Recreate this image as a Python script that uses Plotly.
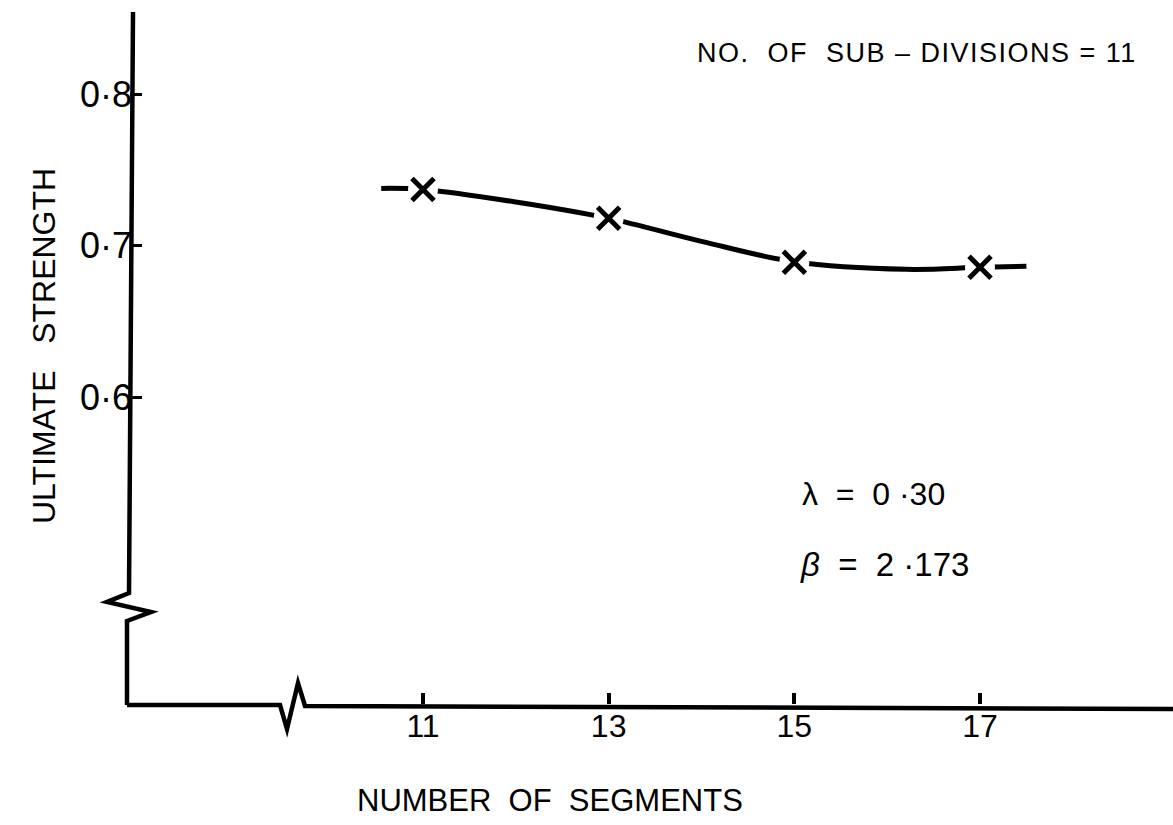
import plotly.graph_objects as go

# Data
segments = [11, 13, 15, 17]
strength = [0.7373, 0.7182, 0.6891, 0.6858]

curve_x = [10.55, 11, 12, 13, 14, 15, 16.2, 17, 17.5]
curve_y = [0.7380, 0.7373, 0.7290, 0.7182, 0.7030, 0.6895, 0.6845, 0.6858, 0.6865]

ytick_vals = [0.6, 0.7, 0.8]
ytick_text = ["0·6", "0·7", "0·8"]
xtick_vals = [11, 13, 15, 17]
xtick_text = ["11", "13", "15", "17"]

FONT = "Liberation Sans"
INK = "black"

fig = go.Figure()

fig.add_trace(go.Scatter(
    x=curve_x, y=curve_y, mode="lines",
    line=dict(color=INK, width=5, shape="spline", smoothing=1.0),
    hoverinfo="skip", showlegend=False))

# white gap behind the crosses
fig.add_trace(go.Scatter(
    x=segments, y=strength, mode="markers",
    marker=dict(symbol="circle", size=30, color="white", line=dict(width=0)),
    hoverinfo="skip", showlegend=False))

fig.add_trace(go.Scatter(
    x=segments, y=strength, mode="markers",
    marker=dict(symbol="x-thin", size=22, color=INK, line=dict(width=5, color=INK)),
    showlegend=False))

# axes with break symbols (paper coordinates)
L, R, T, B = 130, 1173, 10, 704
W, H = 1173, 825
pw, ph = R - L, B - T

def px(xp):
    return (xp - L) / pw

def py(yp):
    return (B - yp) / ph

y_axis_pts = [(133, 12), (129, 593), (107, 602), (151, 612), (127, 621), (127, 705)]
x_axis_pts = [(127, 705), (280, 705), (287, 729), (298, 683), (305, 706), (1173, 709)]

def path(pts):
    return "M " + " L ".join(f"{px(a):.5f},{py(b):.5f}" for a, b in pts)

for pts in (y_axis_pts, x_axis_pts):
    fig.add_shape(type="path", path=path(pts), xref="paper", yref="paper",
                  line=dict(color=INK, width=4.5), layer="above")

fig.update_layout(
    width=W, height=H,
    margin=dict(l=L, r=W - R, t=T, b=H - B),
    paper_bgcolor="white", plot_bgcolor="white",
    font=dict(family=FONT, color=INK, size=30),
    xaxis=dict(range=[7.844, 19.079], showgrid=False, zeroline=False, showline=False,
               tickvals=xtick_vals, ticktext=xtick_text, ticks="inside",
               ticklen=11, tickwidth=4, tickcolor=INK,
               tickfont=dict(family=FONT, size=32, color=INK)),
    yaxis=dict(range=[0.397, 0.856], showgrid=False, zeroline=False, showline=False,
               tickvals=ytick_vals, ticktext=ytick_text, ticks="inside",
               ticklen=12, tickwidth=3, tickcolor=INK, ticklabelstandoff=-3,
               tickfont=dict(family=FONT, size=36, color=INK)),
    annotations=[
        dict(text="NUMBER  OF  SEGMENTS", xref="paper", yref="paper",
             x=px(355), y=py(800), xanchor="left", yanchor="middle",
             showarrow=False, font=dict(family=FONT, size=31, color=INK)),
        dict(text="ULTIMATE   STRENGTH", xref="paper", yref="paper",
             x=px(44), y=py(346), xanchor="center", yanchor="middle", textangle=-90,
             showarrow=False, font=dict(family=FONT, size=32, color=INK)),
        dict(text='<span style="letter-spacing:1.5px">NO.  OF  SUB – DIVISIONS = 11</span>',
             xref="paper", yref="paper",
             x=px(695), y=py(53), xanchor="left", yanchor="middle",
             showarrow=False, font=dict(family=FONT, size=27, color=INK)),
        dict(text="λ  =  0 ·30", xref="paper", yref="paper",
             x=px(800), y=py(494), xanchor="left", yanchor="middle",
             showarrow=False, font=dict(family=FONT, size=32, color=INK)),
        dict(text="<i>β</i>  =  2 ·173", xref="paper", yref="paper",
             x=px(798), y=py(564), xanchor="left", yanchor="middle",
             showarrow=False, font=dict(family=FONT, size=33, color=INK)),
    ],
)

fig.write_html("out.html")
